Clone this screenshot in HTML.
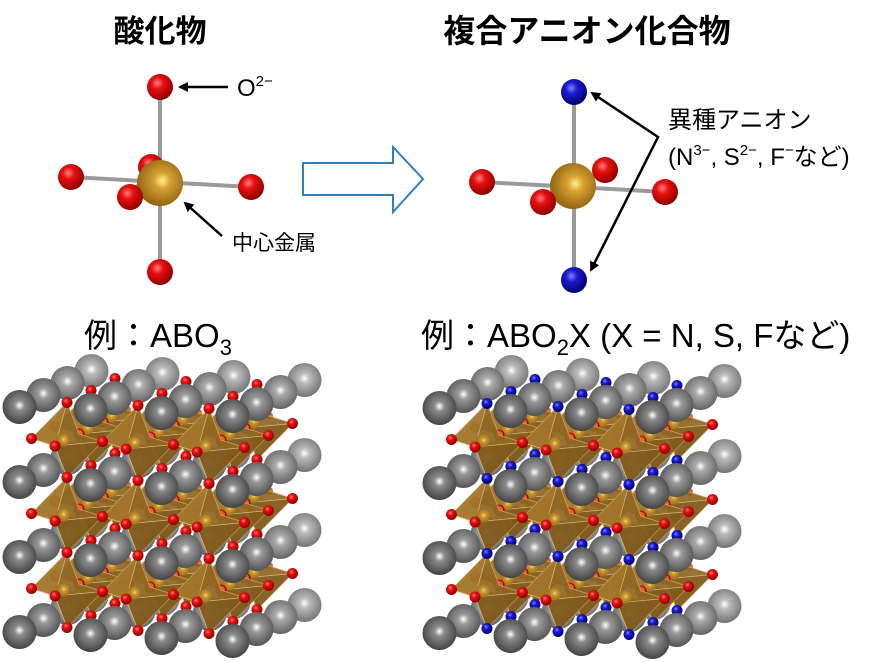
<!DOCTYPE html>
<html><head><meta charset="utf-8">
<style>
html,body{margin:0;padding:0;background:#fff;}
svg{display:block;}
text{font-family:"Liberation Sans","Noto Sans CJK JP",sans-serif;}
</style></head>
<body>
<svg id="s" width="890" height="662" viewBox="0 0 890 662" xmlns="http://www.w3.org/2000/svg">
<defs>
<radialGradient id="gR" cx="0.4" cy="0.35" r="0.65"><stop offset="0" stop-color="#ff8080"/><stop offset="0.35" stop-color="#e81010"/><stop offset="1" stop-color="#900000"/></radialGradient>
<radialGradient id="gB" cx="0.4" cy="0.35" r="0.65"><stop offset="0" stop-color="#8080ff"/><stop offset="0.35" stop-color="#1a1ad0"/><stop offset="1" stop-color="#000070"/></radialGradient>
<radialGradient id="gY" cx="0.55" cy="0.45" r="0.6"><stop offset="0" stop-color="#fff08a"/><stop offset="0.3" stop-color="#d6a030"/><stop offset="1" stop-color="#8a5c10"/></radialGradient>
<radialGradient id="gG0" cx="0.5" cy="0.45" r="0.6"><stop offset="0" stop-color="#ffffff"/><stop offset="0.25" stop-color="#8a8a8a"/><stop offset="1" stop-color="#3a3a3a"/></radialGradient>
<radialGradient id="gG1" cx="0.5" cy="0.45" r="0.6"><stop offset="0" stop-color="#ffffff"/><stop offset="0.25" stop-color="#9a9a9a"/><stop offset="1" stop-color="#4a4a4a"/></radialGradient>
<radialGradient id="gG2" cx="0.5" cy="0.45" r="0.6"><stop offset="0" stop-color="#ffffff"/><stop offset="0.25" stop-color="#aaaaaa"/><stop offset="1" stop-color="#5a5a5a"/></radialGradient>
<radialGradient id="gG3" cx="0.5" cy="0.45" r="0.6"><stop offset="0" stop-color="#ffffff"/><stop offset="0.25" stop-color="#bbbbbb"/><stop offset="1" stop-color="#6a6a6a"/></radialGradient>
<marker id="ah" markerWidth="10" markerHeight="10" refX="8" refY="5" orient="auto" markerUnits="userSpaceOnUse"><path d="M0,0 L10,5 L0,10 z" fill="#000"/></marker>
</defs>

<text x="160" y="42" font-size="31" font-weight="bold" text-anchor="middle">酸化物</text>
<text x="587" y="42" font-size="32" font-weight="bold" text-anchor="middle">複合アニオン化合物</text>

<!-- left octahedron -->
<g stroke="#9a9a9a" stroke-width="4">
<line x1="160" y1="87" x2="160" y2="272"/>
<line x1="71" y1="177" x2="251" y2="187"/>
<line x1="151" y1="167" x2="130" y2="197"/>
</g>
<circle cx="151" cy="167" r="13" fill="url(#gR)"/>
<circle cx="160" cy="87" r="13" fill="url(#gR)"/>
<circle cx="71" cy="177" r="13" fill="url(#gR)"/>
<circle cx="251" cy="187" r="13" fill="url(#gR)"/>
<circle cx="160" cy="183" r="23" fill="url(#gY)"/>
<circle cx="130" cy="197" r="13" fill="url(#gR)"/>
<circle cx="160" cy="272" r="13" fill="url(#gR)"/>
<line x1="228" y1="87" x2="180" y2="87" stroke="#000" stroke-width="2.5" marker-end="url(#ah)"/>
<text x="237" y="96" font-size="24">O<tspan font-size="15" dy="-10">2−</tspan></text>
<line x1="222" y1="236" x2="185" y2="203" stroke="#000" stroke-width="2.5" marker-end="url(#ah)"/>
<text x="232" y="250" font-size="21">中心金属</text>

<!-- hollow arrow -->
<path d="M303,163 L393,163 L393,147 L423,179 L393,212 L393,195 L303,195 Z" fill="#fff" stroke="#2e7fc0" stroke-width="2"/>

<!-- right octahedron -->
<g stroke="#9a9a9a" stroke-width="4">
<line x1="574" y1="92" x2="574" y2="280"/>
<line x1="482" y1="182" x2="665" y2="192"/>
<line x1="605" y1="170" x2="543" y2="202"/>
</g>
<circle cx="605" cy="170" r="13" fill="url(#gR)"/>
<circle cx="574" cy="92" r="13" fill="url(#gB)"/>
<circle cx="482" cy="182" r="13" fill="url(#gR)"/>
<circle cx="665" cy="192" r="13" fill="url(#gR)"/>
<circle cx="573" cy="186" r="23" fill="url(#gY)"/>
<circle cx="543" cy="202" r="13" fill="url(#gR)"/>
<circle cx="574" cy="280" r="13" fill="url(#gB)"/>
<polyline points="640,125 658,137 650,153" fill="none" stroke="#000" stroke-width="2.5"/>
<line x1="640" y1="125" x2="592" y2="93" stroke="#000" stroke-width="2.5" marker-end="url(#ah)"/>
<line x1="650" y1="153" x2="591" y2="270" stroke="#000" stroke-width="2.5" marker-end="url(#ah)"/>
<text x="668" y="128" font-size="24">異種アニオン</text>
<text x="668" y="165" font-size="24">(N<tspan font-size="15" dy="-10">3−</tspan><tspan dy="10">, S</tspan><tspan font-size="15" dy="-10">2−</tspan><tspan dy="10">, F</tspan><tspan font-size="15" dy="-10">−</tspan><tspan dy="10">など)</tspan></text>

<text x="84" y="347" font-size="33">例：ABO<tspan font-size="22" dy="8">3</tspan></text>
<text x="421" y="347" font-size="33">例：ABO<tspan font-size="22" dy="8">2</tspan><tspan dy="-8">X (X = N, S, Fなど)</tspan></text>

<g id="c1"></g>
<g id="c2"></g>
</svg>
<script>
(function(){
var NS="http://www.w3.org/2000/svg";
function el(p,t,a){var e=document.createElementNS(NS,t);for(var k in a)e.setAttribute(k,a[k]);p.appendChild(e);return e;}
var ax=[71,3],ay=[0,75],az=[24,-12];
function P(ox,oy,i,j,k){return [ox+i*ax[0]+j*ay[0]+k*az[0], oy+i*ax[1]+j*ay[1]+k*az[1]];}
function build(g,ox,oy,blue){
  var items=[];
  for(var i=0;i<4;i++)for(var j=0;j<4;j++)for(var k=0;k<4;k++){
    items.push({d:(k-0.5)*10 - (i)*0.01, t:'A', k:k, p:P(ox,oy,i-0.5,j-0.5,k-0.5)});
  }
  for(var i=0;i<3;i++)for(var j=0;j<3;j++)for(var k=0;k<3;k++){
    items.push({d:k*10+0.5, t:'O', i:i,j:j,k:k});
  }
  items.sort(function(a,b){return b.d-a.d;});
  items.forEach(function(it){
    if(it.t==='A'){
      el(g,'circle',{cx:it.p[0],cy:it.p[1],r:17,fill:'url(#gG'+it.k+')'});
    } else {
      var c=P(ox,oy,it.i,it.j,it.k);
      var T=P(ox,oy,it.i,it.j-0.5,it.k),Bo=P(ox,oy,it.i,it.j+0.5,it.k),
          L=P(ox,oy,it.i-0.5,it.j,it.k),R=P(ox,oy,it.i+0.5,it.j,it.k),
          F=P(ox,oy,it.i,it.j,it.k-0.5),K=P(ox,oy,it.i,it.j,it.k+0.5);
      el(g,'circle',{cx:K[0],cy:K[1],r:4,fill:'#e06030'});
      var hull=[T,K,R,Bo,F,L].map(function(p){return p.join(',');}).join(' ');
      el(g,'polygon',{points:hull,fill:'#8f6622','fill-opacity':'0.92',stroke:'#c9a060','stroke-width':'0.8'});
      el(g,'polygon',{points:[T,L,F].map(function(p){return p.join(',');}).join(' '),fill:'#b88a38','fill-opacity':'0.45'});
      el(g,'polygon',{points:[Bo,R,F].map(function(p){return p.join(',');}).join(' '),fill:'#6a4810','fill-opacity':'0.35'});
      [T,Bo,L,R].forEach(function(p){el(g,'line',{x1:F[0],y1:F[1],x2:p[0],y2:p[1],stroke:'#d8b878','stroke-width':'0.7'});});
      el(g,'circle',{cx:c[0]-4,cy:c[1],r:7,fill:'url(#gY)','fill-opacity':'0.8'});
      var vc=blue?'url(#gB)':'url(#gR)';
      el(g,'circle',{cx:T[0],cy:T[1],r:5.5,fill:vc});
      el(g,'circle',{cx:Bo[0],cy:Bo[1],r:5.5,fill:vc});
      el(g,'circle',{cx:L[0],cy:L[1],r:5.5,fill:'url(#gR)'});
      el(g,'circle',{cx:R[0],cy:R[1],r:5.5,fill:'url(#gR)'});
      el(g,'circle',{cx:F[0],cy:F[1],r:5.5,fill:'url(#gR)'});
    }
  });
}
build(document.getElementById('c1'),67,440,false);
build(document.getElementById('c2'),487,441,true);
})();
</script>
</body></html>
